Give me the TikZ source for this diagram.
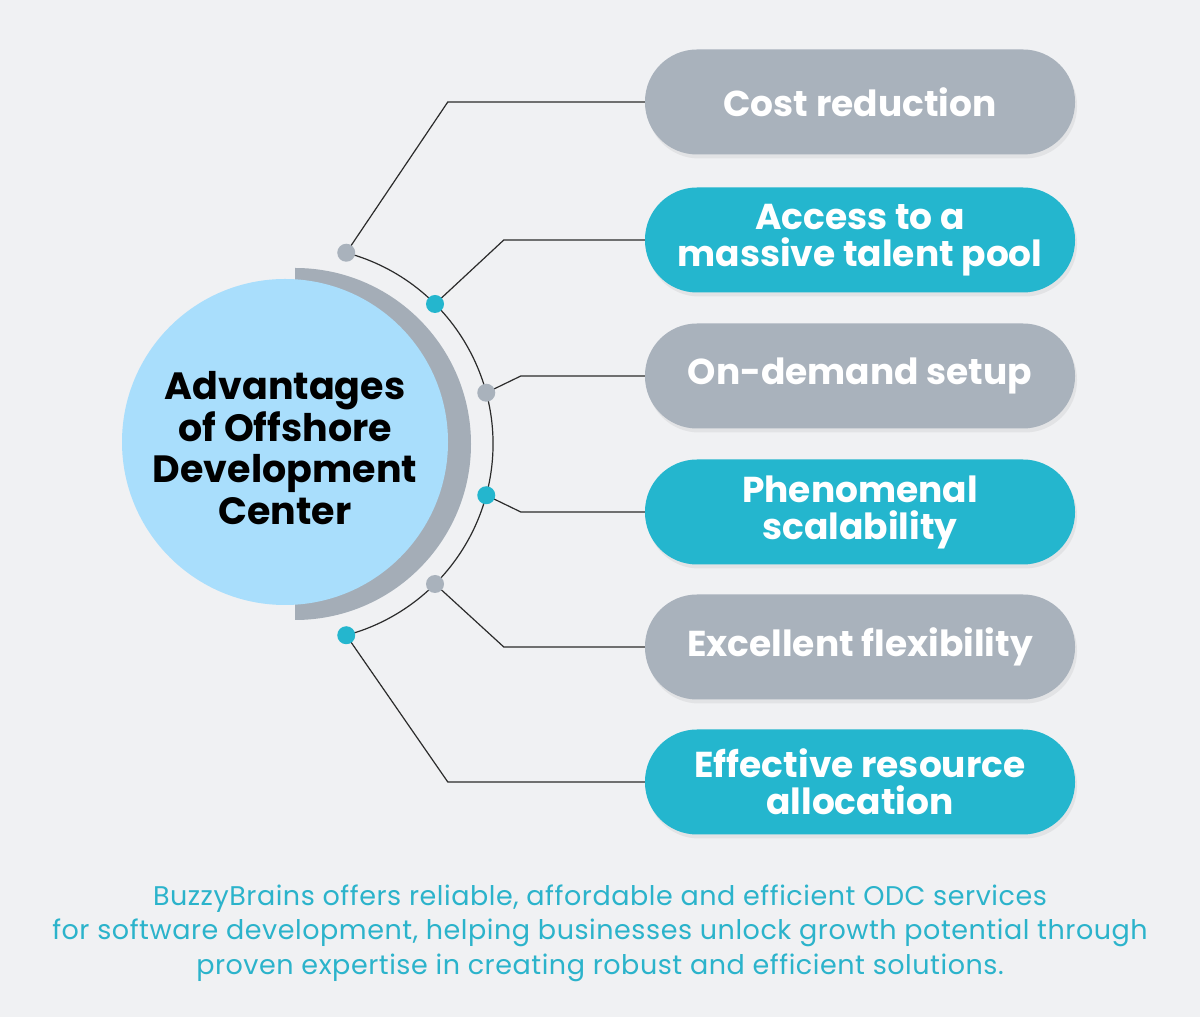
\documentclass[tikz,border=0pt]{standalone}
\usepackage{fontspec}
\setmainfont{Poppins}
\usetikzlibrary{calc,shadows}
\definecolor{bg}{HTML}{F0F1F3}
\definecolor{pillgray}{HTML}{A9B2BC}
\definecolor{pillteal}{HTML}{24B6CE}
\definecolor{circblue}{HTML}{A9DEFC}
\definecolor{crescent}{HTML}{A4ADB7}
\definecolor{linec}{HTML}{2B2B2B}
\definecolor{btext}{HTML}{2BB3CB}
\begin{document}
\begin{tikzpicture}[x=1pt,y=1pt,
 pill/.style={rectangle, rounded corners=52pt, minimum width=430pt, minimum height=105pt, inner sep=0pt, text=white, font=\fontsize{36}{37}\selectfont\bfseries, align=center, drop shadow={opacity=0.12, shadow xshift=2pt, shadow yshift=-4pt}},
 graypill/.style={pill, fill=pillgray},
 tealpill/.style={pill, fill=pillteal},
 dot/.style={circle, minimum size=18pt, inner sep=0pt},
 graydot/.style={dot, fill=pillgray},
 tealdot/.style={dot, fill=pillteal},
 conn/.style={draw=linec, line width=1.2pt}
]
\fill[bg] (0,0) rectangle (1200,1017);
\useasboundingbox (0,0) rectangle (1200,1017);

% crescent and main circle
\coordinate (C) at (295,573);
\fill[crescent] (295,749) arc[start angle=90, end angle=-90, radius=176pt] -- cycle;
\node[circle, fill=circblue, minimum size=326pt, inner sep=0pt] (main) at (285,575) {};
\node[align=center, font=\fontsize{38}{41.5}\selectfont\bfseries] (maintext) at (285,569)
  {Advantages\\of Offshore\\Development\\Center};

% pills
\node[graypill] (p1) at (860,915) {Cost reduction};
\node[tealpill] (p2) at (860,777) {Access to a\\massive talent pool};
\node[graypill] (p3) at (860,641) {On-demand setup};
\node[tealpill] (p4) at (860,505) {Phenomenal\\scalability};
\node[graypill] (p5) at (860,370) {Excellent flexibility};
\node[tealpill] (p6) at (860,235) {Effective resource\\allocation};

% dot positions
\coordinate (c1) at ($(C)+(75:198)$);
\coordinate (c2) at ($(C)+(45:198)$);
\coordinate (c3) at ($(C)+(15:198)$);
\coordinate (c4) at ($(C)+(-15:198)$);
\coordinate (c5) at ($(C)+(-45:198)$);
\coordinate (c6) at ($(C)+(-75:198)$);

% arc
\draw[conn] (c1) arc[start angle=75, end angle=-75, radius=198pt];

% connectors
\draw[conn] (c1) -- ([xshift=-197pt]p1.west) -- (p1.west);
\draw[conn] (c2) -- ([xshift=-141pt]p2.west) -- (p2.west);
\draw[conn] (c3) -- ([xshift=-124pt]p3.west) -- (p3.west);
\draw[conn] (c4) -- ([xshift=-124pt]p4.west) -- (p4.west);
\draw[conn] (c5) -- ([xshift=-141pt]p5.west) -- (p5.west);
\draw[conn] (c6) -- ([xshift=-197pt]p6.west) -- (p6.west);

% dots
\node[graydot] (d1) at (c1) {};
\node[tealdot] (d2) at (c2) {};
\node[graydot] (d3) at (c3) {};
\node[tealdot] (d4) at (c4) {};
\node[graydot] (d5) at (c5) {};
\node[tealdot] (d6) at (c6) {};

% bottom text
\node[align=center, text=btext, font=\fontsize{27}{34.5}\selectfont\addfontfeatures{LetterSpace=2}] (foot) at (600,84)
 {BuzzyBrains offers reliable, affordable and efficient ODC services\\
  for software development, helping businesses unlock growth potential through\\
  proven expertise in creating robust and efficient solutions.};
\end{tikzpicture}
\end{document}
